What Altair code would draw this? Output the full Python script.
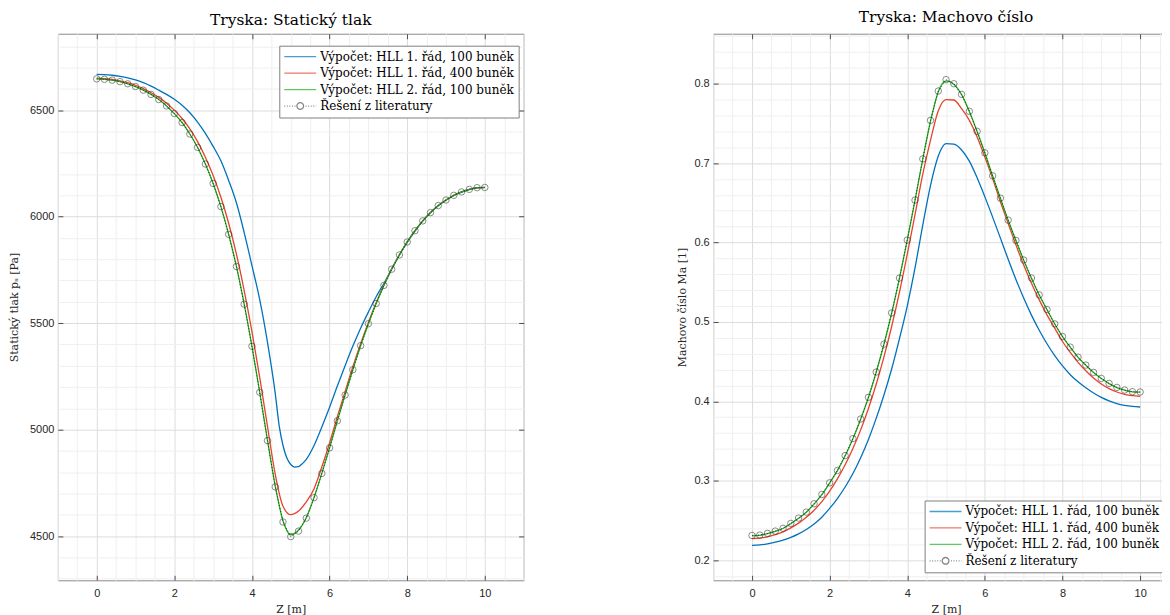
import altair as alt
import pandas as pd

# ---------------- data ----------------
X = [0.0, 0.2, 0.4, 0.6, 0.8, 1.0, 1.2, 1.4, 1.6, 1.8, 2.0, 2.2, 2.4, 2.6, 2.8,
     3.0, 3.2, 3.4, 3.6, 3.8, 4.0, 4.2, 4.4, 4.6, 4.8, 5.0, 5.2, 5.4, 5.6, 5.8,
     6.0, 6.2, 6.4, 6.6, 6.8, 7.0, 7.2, 7.4, 7.6, 7.8, 8.0, 8.2, 8.4, 8.6, 8.8,
     9.0, 9.2, 9.4, 9.6, 9.8, 10.0]
# the 1st-order / 100-cell pressure curve is read more densely around its minimum
X_P100 = [0.0, 0.2, 0.4, 0.6, 0.8, 1.0, 1.2, 1.4, 1.6, 1.8, 2.0, 2.2, 2.4, 2.6, 2.8,
          3.0, 3.2, 3.4, 3.6, 3.8, 4.0, 4.2, 4.4, 4.6, 4.7, 4.8, 4.9, 5.0, 5.1, 5.2, 5.3,
          5.4, 5.6, 5.8, 6.0, 6.2, 6.4, 6.6, 6.8, 7.0, 7.2, 7.4, 7.6, 7.8, 8.0, 8.2, 8.4,
          8.6, 8.8, 9.0, 9.2, 9.4, 9.6, 9.8, 10.0]

SERIES = ["Výpočet: HLL 1. řád, 100 buněk",
          "Výpočet: HLL 1. řád, 400 buněk",
          "Výpočet: HLL 2. řád, 100 buněk",
          "Řešení z literatury"]

# static pressure [Pa]
p_hll1_100 = [6668, 6667, 6664, 6659, 6652, 6642, 6629, 6613, 6594, 6574, 6551, 6523, 6488, 6444, 6391,
              6330, 6262, 6170, 6065, 5925, 5770, 5610, 5410, 5170, 5020, 4925, 4866, 4836, 4824, 4826,
              4840, 4860, 4925, 5012, 5105, 5205, 5300, 5392, 5476, 5552, 5624, 5686, 5755, 5821, 5879,
              5932, 5979, 6018, 6051, 6077, 6099, 6115, 6127, 6135, 6136]
p_hll1_400 = [6650, 6648, 6644, 6638, 6629, 6617, 6601, 6582, 6560, 6533, 6500, 6461, 6412, 6352, 6279,
              6193, 6091, 5969, 5824, 5653, 5460, 5245, 5015, 4790, 4640, 4600, 4617, 4660, 4722, 4824,
              4937, 5060, 5178, 5295, 5403, 5503, 5595, 5679, 5754, 5821, 5881, 5934, 5980, 6019, 6052,
              6078, 6100, 6116, 6128, 6135, 6137]
p_hll2_100 = [6647, 6645, 6641, 6634, 6624, 6611, 6594, 6574, 6550, 6520, 6484, 6442, 6388, 6325, 6247,
              6156, 6047, 5917, 5766, 5589, 5391, 5175, 4950, 4735, 4572, 4506, 4528, 4586, 4681, 4794,
              4914, 5041, 5162, 5281, 5394, 5497, 5592, 5677, 5753, 5820, 5881, 5934, 5980, 6019, 6052,
              6078, 6100, 6116, 6128, 6136, 6137]
p_lit = [6647, 6645, 6641, 6634, 6624, 6611, 6594, 6574, 6550, 6520, 6484, 6442, 6388, 6325, 6247,
         6156, 6047, 5917, 5766, 5589, 5391, 5175, 4948, 4731, 4566, 4497, 4523, 4584, 4680, 4794,
         4914, 5041, 5162, 5281, 5394, 5497, 5592, 5677, 5753, 5820, 5881, 5934, 5980, 6019, 6052,
         6078, 6100, 6116, 6128, 6136, 6137]

# Mach number [1]
m_hll1_100 = [0.2185, 0.2192, 0.2205, 0.2225, 0.225, 0.2285, 0.233, 0.2385, 0.2455, 0.254, 0.265, 0.2775,
              0.292, 0.309, 0.329, 0.352, 0.3785, 0.408, 0.441, 0.479, 0.520, 0.568, 0.622, 0.672,
              0.709, 0.7245, 0.7238, 0.7165, 0.7025, 0.6815, 0.6575, 0.632, 0.6055, 0.579, 0.5535,
              0.530, 0.5085, 0.4895, 0.4725, 0.4575, 0.4445, 0.4335, 0.4245, 0.417, 0.4105, 0.405,
              0.4005, 0.397, 0.3948, 0.3935, 0.3928]
m_hll1_400 = [0.227, 0.2275, 0.2292, 0.232, 0.2355, 0.2405, 0.2465, 0.2538, 0.2628, 0.2735, 0.2868,
              0.3022, 0.320, 0.3405, 0.364, 0.391, 0.4215, 0.456, 0.4945, 0.5375, 0.585, 0.635, 0.686,
              0.729, 0.766, 0.780, 0.7795, 0.7686, 0.7539, 0.733, 0.7078, 0.6806, 0.6513, 0.624, 0.597,
              0.5717, 0.5486, 0.5277, 0.5088, 0.4921, 0.4753, 0.4615, 0.449, 0.4385, 0.4292, 0.4217,
              0.4159, 0.4117, 0.4088, 0.4071, 0.4062]
m_hll2_100 = [0.2305, 0.2312, 0.2333, 0.2362, 0.2398, 0.2458, 0.2526, 0.2602, 0.2706, 0.2823, 0.2970,
              0.3126, 0.3313, 0.3528, 0.3775, 0.4048, 0.4366, 0.4718, 0.5112, 0.5551, 0.6029, 0.6532,
              0.7050, 0.7530, 0.7900, 0.8035, 0.7995, 0.7862, 0.7650, 0.7398, 0.7127, 0.6838, 0.6557,
              0.6280, 0.6025, 0.5778, 0.5551, 0.5338, 0.5154, 0.4973, 0.4814, 0.4680, 0.4554, 0.4454,
              0.4362, 0.4286, 0.4223, 0.4173, 0.4140, 0.4119, 0.4115]
m_lit = [0.231, 0.2315, 0.2336, 0.2365, 0.240, 0.2462, 0.2529, 0.2604, 0.2709, 0.2826, 0.2973, 0.3128,
         0.3316, 0.353, 0.3777, 0.405, 0.4368, 0.472, 0.5114, 0.5553, 0.6031, 0.6534, 0.7053, 0.7539,
         0.7908, 0.8052, 0.800, 0.7866, 0.7652, 0.740, 0.7129, 0.684, 0.6559, 0.6282, 0.6027, 0.578,
         0.5553, 0.534, 0.5156, 0.4975, 0.4816, 0.4682, 0.4556, 0.4456, 0.4364, 0.4288, 0.4225,
         0.4175, 0.4142, 0.4121, 0.4117]

X_MAJOR = [0, 2, 4, 6, 8, 10]
P_MAJOR = [4500, 5000, 5500, 6000, 6500]
M_MAJOR = [0.2, 0.3, 0.4, 0.5, 0.6, 0.7, 0.8]

# ---------------- style ----------------
COLORS = ["#0072BD", "#E8412C", "#19B419", "#555555"]
SERIF = "DejaVu Serif"
SANS = "Liberation Sans"
BOX = "#8a8a8a"
TICK = "#4d4d4d"
GRID_MAJ = "#dcdcdc"
GRID_MIN = "#efefef"

LINE_PATH = "M-1,0H1"
_dots = ""
s = -1.0
while s < -0.3:
    _dots += "M%.3f,0H%.3f" % (s, s + 0.06)
    s += 0.16
s = 0.34
while s < 1.0:
    _dots += "M%.3f,0H%.3f" % (s, min(s + 0.06, 1.0))
    s += 0.16
LIT_PATH = _dots + "M0.21,0A0.21,0.21 0 1,1 -0.21,0A0.21,0.21 0 1,1 0.21,0Z"
SHAPES = [LINE_PATH, LINE_PATH, LINE_PATH, LIT_PATH]


def long_df(curves):
    rows = []
    for name, (xs, vals) in zip(SERIES[:3], curves):
        for xv, yv in zip(xs, vals):
            rows.append({"x": xv, "v": yv, "series": name})
    return pd.DataFrame(rows)


def panel(curves, lit, ydom, ystep, ymajor, ymajor_test, yfmt, ytitle, title, lx, ly, ytitle_pad, W, H):
    lines_df = long_df(curves)
    lit_df = pd.DataFrame({"x": X, "v": lit})
    leg_df = pd.DataFrame({"series": SERIES, "x": [0, 0, 0, 0], "v": [ydom[0]] * 4})

    xminor = [-1 + 0.5 * i for i in range(25)]
    start = (int(ydom[0] / ystep) + 1) * ystep
    yminor = []
    k = 0
    while start + ystep * k < ydom[1]:
        yminor.append(round(start + ystep * k, 6))
        k += 1

    xscale = alt.Scale(domain=[-1, 11], nice=False, zero=False)
    yscale = alt.Scale(domain=ydom, nice=False, zero=False)

    legend = alt.Legend(orient="none", legendX=lx, legendY=ly, title=None,
                        labelFont=SERIF, labelFontSize=12, labelColor="black",
                        symbolSize=1024, symbolStrokeWidth=1.3, labelOffset=3,
                        padding=4, rowPadding=2.5, strokeColor="#808080",
                        fillColor="white", symbolOffset=0, clipHeight=14,
                        labelLimit=400)
    cscale = alt.Scale(domain=SERIES, range=COLORS)
    sscale = alt.Scale(domain=SERIES, range=SHAPES)

    xmaj_test = "abs(datum.value/2 - round(datum.value/2)) < 1e-6"

    main_x = alt.Axis(values=xminor, title="Z [m]", titleFont=SERIF, titleFontSize=11,
                      titleFontWeight="normal", titleColor="#262626", titlePadding=5,
                      labelFont=SANS, labelFontSize=11, labelColor="#262626", labelPadding=7,
                      labelExpr="(%s) ? format(datum.value, 'd') : ''" % xmaj_test,
                      ticks=False, domain=False, grid=True,
                      gridColor={"condition": {"test": xmaj_test, "value": GRID_MAJ}, "value": GRID_MIN},
                      labelFlush=False, labelOverlap=False)
    main_y = alt.Axis(values=yminor, title=ytitle, titleFont=SERIF, titleFontSize=11,
                      titleFontWeight="normal", titleColor="#262626", titlePadding=ytitle_pad,
                      labelFont=SANS, labelFontSize=11, labelColor="#262626", labelPadding=4,
                      labelExpr="(%s) ? format(datum.value, '%s') : ''" % (ymajor_test, yfmt),
                      ticks=False, domain=False, grid=True,
                      gridColor={"condition": {"test": ymajor_test, "value": GRID_MAJ}, "value": GRID_MIN},
                      labelFlush=False, labelOverlap=False)

    def tick_axis(orient, vals):
        return alt.Axis(orient=orient, values=vals, offset=-5, tickSize=5, tickColor=TICK,
                        labels=False, domain=False, grid=False, title=None)

    lines = alt.Chart(lines_df).mark_line(strokeWidth=1.3, interpolate="monotone", clip=True).encode(
        x=alt.X("x:Q", scale=xscale, axis=main_x),
        y=alt.Y("v:Q", scale=yscale, axis=main_y),
        color=alt.Color("series:N", scale=cscale, legend=legend, sort=SERIES),
        order=alt.Order("series:N"),
    )
    lit_line = alt.Chart(lit_df).mark_line(strokeWidth=1, strokeDash=[1, 2], color="#333333",
                                           clip=True).encode(
        x=alt.X("x:Q", scale=xscale, axis=tick_axis("bottom", X_MAJOR)),
        y=alt.Y("v:Q", scale=yscale, axis=tick_axis("left", ymajor)),
    )
    lit_pts = alt.Chart(lit_df).mark_point(shape="circle", filled=False, size=42, color="#333333",
                                           strokeWidth=0.8, clip=True).encode(
        x=alt.X("x:Q", scale=xscale, axis=tick_axis("top", X_MAJOR)),
        y=alt.Y("v:Q", scale=yscale, axis=tick_axis("right", ymajor)),
    )
    leg = alt.Chart(leg_df).transform_filter("datum.x > 100").mark_point(filled=False).encode(
        x=alt.X("x:Q", scale=xscale, axis=None),
        y=alt.Y("v:Q", scale=yscale, axis=None),
        color=alt.Color("series:N", scale=cscale, legend=legend, sort=SERIES),
        shape=alt.Shape("series:N", scale=sscale, legend=legend, sort=SERIES),
    )
    return alt.layer(lines, lit_line, lit_pts, leg).resolve_axis(
        x="independent", y="independent"
    ).properties(
        width=W, height=H,
        title=alt.TitleParams(title, font=SERIF, fontSize=15.5, fontWeight="normal", color="black",
                              anchor="middle", frame="group", offset=5),
    )


p_major_test = "abs(datum.value/500 - round(datum.value/500)) < 1e-6"
m_major_test = "abs(datum.value*10 - round(datum.value*10)) < 1e-6"

left = panel([(X_P100, p_hll1_100), (X, p_hll1_400), (X, p_hll2_100)], p_lit, [4292, 6859], 100,
             P_MAJOR, p_major_test, "d",
             "Statický tlak pₛ [Pa]", "Tryska: Statický tlak", 222, 12, 10, 467, 548)
right = panel([(X, m_hll1_100), (X, m_hll1_400), (X, m_hll2_100)], m_lit, [0.1745, 0.863], 0.02,
              M_MAJOR, m_major_test, ".1f",
              "Machovo číslo Ma [1]", "Tryska: Machovo číslo", 212, 468, 6, 467, 548)

chart = alt.hconcat(left, right, spacing=152).resolve_scale(
    color="independent", shape="independent"
).resolve_legend(color="independent", shape="independent").properties(
    padding={"left": 0, "top": 0, "right": -18, "bottom": 0}
).configure_view(stroke=BOX, strokeWidth=1)

chart.save("out.html", embed_options={"renderer": "svg", "actions": False})
